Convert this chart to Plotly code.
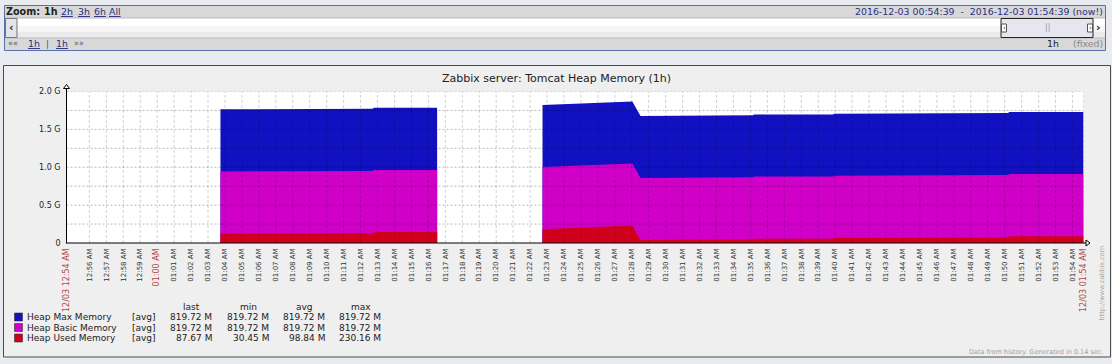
import plotly.graph_objects as go

W, H = 1112, 364
DAY = "2016-12-03 "
RANGE_START = DAY + "00:54:39"
RANGE_END = DAY + "01:54:39"

# ---------------- data (values in MB) ----------------
sample_times = [
    "01:03:44", "01:07:08", "01:07:10", "01:12:44", "01:12:46", "01:16:31",
    None,
    "01:22:44", "01:24:05", "01:25:09", "01:26:20", "01:28:02", "01:28:31",
    "01:30:26", "01:30:28", "01:35:10", "01:35:12", "01:39:53", "01:39:55",
    "01:44:08", "01:44:10", "01:50:13", "01:50:15", "01:54:39",
]
heap_used_m = [
    125, 125, 132, 132, 145, 145,
    None,
    183, 193, 203, 213, 230, 38,
    38, 47, 47, 57, 57, 68,
    68, 77, 77, 90, 90,
]
heap_basic_m = [
    819.72, 819.72, 819.72, 819.72, 819.72, 819.72,
    None,
    819.72, 819.72, 819.72, 819.72, 819.72, 819.72,
    819.72, 819.72, 819.72, 819.72, 819.72, 819.72,
    819.72, 819.72, 819.72, 819.72, 819.72,
]
heap_max_m = [
    819.72, 819.72, 819.72, 819.72, 819.72, 819.72,
    None,
    819.72, 819.72, 819.72, 819.72, 819.72, 819.72,
    819.72, 819.72, 819.72, 819.72, 819.72, 819.72,
    819.72, 819.72, 819.72, 819.72, 819.72,
]

series_names = ["Heap Max Memory", "Heap Basic Memory", "Heap Used Memory"]
series_colors = ["#1111C2", "#D000C8", "#D0001C"]
stat_headers = ["last", "min", "avg", "max"]
stat_last = ["819.72 M", "819.72 M", "87.67 M"]
stat_min = ["819.72 M", "819.72 M", "30.45 M"]
stat_avg = ["819.72 M", "819.72 M", "98.84 M"]
stat_max = ["819.72 M", "819.72 M", "230.16 M"]

tick_labels = [
    "12/03 12:54 AM", "12:56 AM", "12:57 AM", "12:58 AM", "12:59 AM", "01:00 AM",
    "01:01 AM", "01:02 AM", "01:03 AM", "01:04 AM", "01:05 AM", "01:06 AM",
    "01:07 AM", "01:08 AM", "01:09 AM", "01:10 AM", "01:11 AM", "01:12 AM",
    "01:13 AM", "01:14 AM", "01:15 AM", "01:16 AM", "01:17 AM", "01:18 AM",
    "01:19 AM", "01:20 AM", "01:21 AM", "01:22 AM", "01:23 AM", "01:24 AM",
    "01:25 AM", "01:26 AM", "01:27 AM", "01:28 AM", "01:29 AM", "01:30 AM",
    "01:31 AM", "01:32 AM", "01:33 AM", "01:34 AM", "01:35 AM", "01:36 AM",
    "01:37 AM", "01:38 AM", "01:39 AM", "01:40 AM", "01:41 AM", "01:42 AM",
    "01:43 AM", "01:44 AM", "01:45 AM", "01:46 AM", "01:47 AM", "01:48 AM",
    "01:49 AM", "01:50 AM", "01:51 AM", "01:52 AM", "01:53 AM", "01:54 AM",
    "12/03 01:54 AM",
]
highlight_labels = ["12/03 12:54 AM", "01:00 AM", "12/03 01:54 AM"]
y_tick_vals = [0, 0.5, 1.0, 1.5, 2.0]
y_tick_text = ["0", "0.5 G", "1.0 G", "1.5 G", "2.0 G"]
y_grid_vals = [0.25, 0.5, 0.75, 1.0, 1.25, 1.5, 1.75, 2.0]

FONT = "DejaVu Sans"
TXT = "#222222"
LINK = "#2B2F80"
RED_LBL = "#B84545"


# ---------------- helpers ----------------
def X(p):
    return p / W


def Y(p):
    return 1 - p / H


def rect(x0, y0, x1, y1, fill, line=None, lw=0, layer="below"):
    return dict(type="rect", xref="paper", yref="paper",
                x0=X(x0), x1=X(x1), y0=Y(y1), y1=Y(y0),
                fillcolor=fill, layer=layer,
                line=dict(color=line or "rgba(0,0,0,0)", width=lw))


def hline(x0, x1, y, color, lw=1, layer="above"):
    return dict(type="line", xref="paper", yref="paper", x0=X(x0), x1=X(x1),
                y0=Y(y), y1=Y(y), line=dict(color=color, width=lw), layer=layer)


def vline(x, y0, y1, color, lw=1, layer="above"):
    return dict(type="line", xref="paper", yref="paper", x0=X(x), x1=X(x),
                y0=Y(y0), y1=Y(y1), line=dict(color=color, width=lw), layer=layer)


def path(points, fill, line, lw=1):
    d = "M " + " L ".join(f"{X(a)},{Y(b)}" for a, b in points) + " Z"
    return dict(type="path", xref="paper", yref="paper", path=d,
                fillcolor=fill, line=dict(color=line, width=lw), layer="above")


def text(x, y, s, size, color=TXT, xanchor="left", angle=0):
    return dict(xref="paper", yref="paper", x=X(x), y=Y(y), text=s,
                showarrow=False, xanchor=xanchor, yanchor="middle",
                textangle=angle, borderpad=0, borderwidth=0,
                font=dict(family=FONT, size=size, color=color))


def u(s):
    return f'<span style="text-decoration:underline">{s}</span>'


# ---------------- traces ----------------
segments = []
cur = []
for i, t in enumerate(sample_times):
    if t is None:
        segments.append(cur)
        cur = []
    else:
        cur.append(i)
segments.append(cur)

fig = go.Figure()
for seg in segments:
    xs = [DAY + sample_times[i] for i in seg]
    used = [heap_used_m[i] / 1000 for i in seg]
    basic = [(heap_used_m[i] + heap_basic_m[i]) / 1000 for i in seg]
    top = [(heap_used_m[i] + heap_basic_m[i] + heap_max_m[i]) / 1000 for i in seg]
    for ys, col in zip([top, basic, used], series_colors):
        fig.add_trace(go.Scatter(x=xs, y=ys, mode="lines", fill="tozeroy",
                                 fillcolor=col, line=dict(width=0, color=col),
                                 showlegend=False, hoverinfo="skip"))


# ---------------- axes ticks ----------------
def tick_pos(i, lbl):
    if lbl.startswith("12/03"):
        return RANGE_START if i == 0 else RANGE_END
    hh, mm = lbl[:5].split(":")
    return f"{DAY}{int(hh) % 12:02d}:{mm}:00"


tick_vals = [tick_pos(i, l) for i, l in enumerate(tick_labels)]
tick_text = [
    f'<span style="fill:{RED_LBL};font-size:8px">{l}</span>' if l in highlight_labels else l
    for l in tick_labels
]

PX0, PX1 = 66.5, 1083.5
PY0, PY1 = 91.5, 243

# ---------------- decoration shapes ----------------
shapes = []
# top zoom bar
shapes.append(rect(4.5, 5.5, 1105.5, 50.5, "#D8D8D8", "#5672A8", 1))
shapes.append(rect(5, 18, 1105, 26, "#FFFFFF"))
shapes.append(rect(5, 26, 1105, 32, "#F6F6F6"))
shapes.append(rect(5, 32, 1105, 38, "#EBEBEB"))
shapes.append(hline(5, 1105, 18, "#BBBBBB", 1, "below"))
shapes.append(hline(5, 1105, 38, "#BBBBBB", 1, "below"))
shapes.append(rect(5.5, 18.5, 17, 37.5, "#E4E4EA", "#777777", 1))
shapes.append(rect(1001, 18.5, 1093, 37.5, "#E6E6EE", "#222222", 1))
shapes.append(rect(1001.5, 24, 1006.5, 32, "#FFFFFF", "#555555", 1))
shapes.append(rect(1087.5, 24, 1092.5, 32, "#FFFFFF", "#555555", 1))
# chart panel
shapes.append(rect(3.5, 65.5, 1110.5, 357, "#EFEFEF", "#4A4A4A", 1))
shapes.append(rect(PX0, PY0, PX1, PY1, "#FFFFFF"))

# grid (over the areas, like the original)
for yv in y_grid_vals:
    shapes.append(dict(type="line", xref="x", yref="y", x0=RANGE_START, x1=RANGE_END,
                       y0=yv, y1=yv, layer="above",
                       line=dict(color="rgba(0,0,0,0.28)", width=1, dash="2px,2px")))
for tv in tick_vals[1:]:
    shapes.append(dict(type="line", xref="x", yref="y", x0=tv, x1=tv,
                       y0=0, y1=2.0, layer="above",
                       line=dict(color="rgba(0,0,0,0.18)", width=1, dash="3px,2px")))

# axis lines and arrows
shapes.append(vline(PX0, PY1 + 0.5, 88, "#000000", 1))
shapes.append(hline(PX0, 1086, PY1, "#000000", 1))
shapes.append(path([(63.5, 88.5), (66.5, 84.5), (69.5, 88.5)], "#FFFFFF", "#000000", 1))
shapes.append(path([(1086, 240), (1090, 243), (1086, 246)], "#FFFFFF", "#000000", 1))

# legend squares
row_y = [317, 327.5, 338]
for ry, col in zip(row_y, series_colors):
    shapes.append(rect(14.5, ry - 4, 22.5, ry + 4, col, "#333333", 0.6, "above"))

# ---------------- annotations ----------------
ann = []
# top bar text
ann.append(text(6, 11, "<b>Zoom:</b>", 9.6))
ann.append(text(44, 11, "<b>1h</b>", 9.6))
for xx, s in zip([61, 77.5, 93.5, 109], ["2h", "3h", "6h", "All"]):
    ann.append(text(xx, 11, u(s), 9.4, LINK))
ann.append(text(1102.5, 11,
                "2016-12-03 00:54:39  -  2016-12-03 01:54:39 (now!)",
                9.4, LINK, "right"))
ann.append(text(11.2, 27.5, "<b>‹</b>", 11, "#222222", "center"))
ann.append(text(1098.5, 27.5, "<b>›</b>", 11, "#222222", "center"))
ann.append(text(1047, 28, "||", 8, "#999999", "center"))
ann.append(text(1004, 28, "‹", 7, "#333333", "center"))
ann.append(text(1090, 28, "›", 7, "#333333", "center"))
ann.append(text(8, 43.5, "««", 8, "#555555"))
ann.append(text(27.5, 43.5, u("1h"), 9.4, LINK))
ann.append(text(47, 43.5, "|", 9, "#555555", "center"))
ann.append(text(56, 43.5, u("1h"), 9.4, LINK))
ann.append(text(74, 43.5, "»»", 8, "#555555"))
ann.append(text(1058.5, 43.5, "1h", 9.4, TXT, "right"))
ann.append(text(1102.5, 43.5, "(fixed)", 9.4, "#888888", "right"))

# chart title
ann.append(text(556, 78, "Zabbix server: Tomcat Heap Memory (1h)", 11, TXT, "center"))

# legend table
col_right = [212, 269, 324.5, 381]
for h, cr in zip(stat_headers, col_right):
    ann.append(text(cr - 20.5, 306.5, h, 9, TXT, "center"))
for k, ry in enumerate(row_y):
    ann.append(text(27, ry, series_names[k], 9, TXT))
    ann.append(text(132, ry, "[avg]", 9, TXT))
    for vals, cr in zip([stat_last, stat_min, stat_avg, stat_max], col_right):
        ann.append(text(cr, ry, vals[k], 9, TXT, "right"))

ann.append(text(1103, 351.5, "Data from history. Generated in 0.14 sec.", 6.5,
                "#A0A0A0", "right"))
ann.append(text(1101.5, 283, "http://www.zabbix.com", 6.5, "#A8A8A8", "center", -90))

fig.update_layout(
    width=W, height=H,
    margin=dict(l=0, r=0, t=0, b=0),
    paper_bgcolor="#E8ECF0",
    plot_bgcolor="rgba(0,0,0,0)",
    font=dict(family=FONT, color=TXT),
    showlegend=False,
    hovermode=False,
    shapes=shapes,
    annotations=ann,
    xaxis=dict(
        type="date", range=[RANGE_START, RANGE_END],
        domain=[X(PX0), X(PX1)],
        tickmode="array", tickvals=tick_vals, ticktext=tick_text,
        tickangle=-90, tickfont=dict(family=FONT, size=7, color="#333333"),
        showgrid=False, zeroline=False, showline=False, ticks="",
        ticklabelstandoff=3, fixedrange=True, automargin=False,
    ),
    yaxis=dict(
        range=[0, 2.0],
        domain=[Y(PY1), Y(PY0)],
        tickmode="array", tickvals=y_tick_vals, ticktext=y_tick_text,
        tickfont=dict(family=FONT, size=8, color="#222222"),
        showgrid=False, zeroline=False, showline=False, ticks="",
        ticklabelstandoff=5, fixedrange=True, automargin=False,
    ),
)

fig.write_html("out.html", config={"displayModeBar": False})
